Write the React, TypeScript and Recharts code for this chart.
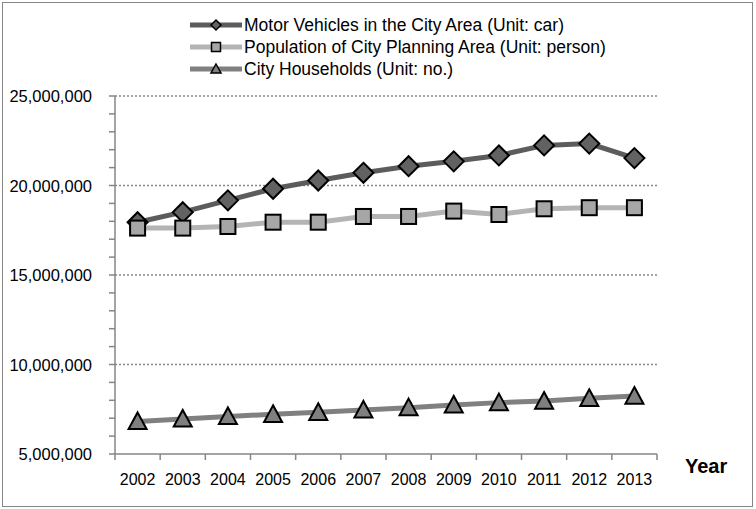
import React from 'react';
import { LineChart, Line, XAxis, YAxis, ReferenceLine, Legend } from 'recharts';

const years = ['2002', '2003', '2004', '2005', '2006', '2007', '2008', '2009', '2010', '2011', '2012', '2013'];
const motorVehicles = [17950000, 18510000, 19170000, 19820000, 20280000, 20710000, 21080000, 21350000, 21680000, 22240000, 22340000, 21530000];
const population = [17620000, 17620000, 17710000, 17950000, 17950000, 18270000, 18270000, 18570000, 18380000, 18700000, 18760000, 18760000];
const households = [6820000, 6960000, 7100000, 7220000, 7330000, 7460000, 7590000, 7740000, 7870000, 7960000, 8110000, 8240000];
const yTicks = [5000000, 6000000, 7000000, 8000000, 9000000, 10000000, 11000000, 12000000, 13000000, 14000000, 15000000, 16000000, 17000000, 18000000, 19000000, 20000000, 21000000, 22000000, 23000000, 24000000, 25000000];
const gridValues = [10000000, 15000000, 20000000, 25000000];
const seriesNames = [
  'Motor Vehicles in the City Area (Unit: car)',
  'Population of City Planning Area (Unit: person)',
  'City Households (Unit: no.)',
];

const data = years.map((y, i) => ({
  year: y,
  motor: motorVehicles[i],
  pop: population[i],
  house: households[i],
}));

const W = 756;
const H = 509;
const M = { top: 96, right: 99, bottom: 25, left: 0 };
const Y_AXIS_W = 115;
const X_AXIS_H = 30;
const plotW = W - M.left - M.right - Y_AXIS_W;
const halfBand = plotW / years.length / 2;
const FONT = '"Liberation Sans", Arial, sans-serif';
const AXIS_COLOR = '#868686';

const colors = {
  motorLine: '#5c5c5c',
  motorFill: '#626262',
  popLine: '#b4b4b4',
  popFill: '#a6a6a6',
  houseLine: '#808080',
  houseFill: '#7f7f7f',
};

const Diamond = (props: any) => {
  const { cx, cy } = props;
  const r = 10;
  if (cx == null || cy == null) return null;
  return (
    <path
      d={`M${cx},${cy - r} L${cx + r},${cy} L${cx},${cy + r} L${cx - r},${cy} Z`}
      fill={colors.motorFill}
      stroke="#000"
      strokeWidth={2}
    />
  );
};

const Square = (props: any) => {
  const { cx, cy } = props;
  const s = 7.5;
  if (cx == null || cy == null) return null;
  return <rect x={cx - s} y={cy - s} width={2 * s} height={2 * s} fill={colors.popFill} stroke="#000" strokeWidth={2} />;
};

const Triangle = (props: any) => {
  const { cx, cy } = props;
  const s = 9;
  if (cx == null || cy == null) return null;
  return (
    <path
      d={`M${cx},${cy - s} L${cx + s},${cy + s * 0.85} L${cx - s},${cy + s * 0.85} Z`}
      fill={colors.houseFill}
      stroke="#000"
      strokeWidth={2}
    />
  );
};

const YTick = (props: any) => {
  const { x, y, payload } = props;
  if (payload.value % 5000000 !== 0) return <g />;
  return (
    <text x={x} y={y} dy={6} textAnchor="end" fontSize={16.5} fontFamily={FONT} fill="#000">
      {Number(payload.value).toLocaleString('en-US')}
    </text>
  );
};

const XTick = (props: any) => {
  const { x, y, payload, index } = props;
  return (
    <g>
      <line x1={x - halfBand} x2={x - halfBand} y1={y} y2={y + 6} stroke={AXIS_COLOR} strokeWidth={1.5} />
      {index === years.length - 1 && (
        <line x1={x + halfBand} x2={x + halfBand} y1={y} y2={y + 6} stroke={AXIS_COLOR} strokeWidth={1.5} />
      )}
      <text x={x} y={y} dy={31} textAnchor="middle" fontSize={16} fontFamily={FONT} fill="#000">
        {payload.value}
      </text>
    </g>
  );
};

const legendItems = [
  { name: seriesNames[0], line: colors.motorLine, marker: 'diamond' },
  { name: seriesNames[1], line: colors.popLine, marker: 'square' },
  { name: seriesNames[2], line: colors.houseLine, marker: 'triangle' },
];

const LegendContent = () => (
  <div style={{ fontFamily: FONT, fontSize: 17.5, color: '#000', lineHeight: '22px' }}>
    {legendItems.map((it) => (
      <div key={it.name} style={{ display: 'flex', alignItems: 'center', height: 22 }}>
        <svg width={52} height={20} style={{ marginRight: 2, flex: 'none' }}>
          <line x1={0} x2={52} y1={10} y2={10} stroke={it.line} strokeWidth={5} />
          {it.marker === 'diamond' && <path d="M26,5 L31,10 L26,15 L21,10 Z" fill={colors.motorFill} stroke="#000" strokeWidth={1.5} />}
          {it.marker === 'square' && <rect x={21.5} y={5.5} width={9} height={9} fill={colors.popFill} stroke="#000" strokeWidth={1.5} />}
          {it.marker === 'triangle' && <path d="M26,5 L31,14 L21,14 Z" fill={colors.houseFill} stroke="#000" strokeWidth={1.5} />}
        </svg>
        <span style={{ whiteSpace: 'nowrap' }}>{it.name}</span>
      </div>
    ))}
  </div>
);

export default function App() {
  return (
    <div style={{ position: 'absolute', left: 0, top: 0, width: W, height: H, background: '#fff' }}>
      <div
        style={{
          position: 'absolute',
          left: 2,
          top: 2,
          width: 751,
          height: 505,
          border: `1.5px solid ${AXIS_COLOR}`,
          boxSizing: 'border-box',
        }}
      />
      <LineChart width={W} height={H} data={data} margin={M} style={{ position: 'absolute', left: 0, top: 0 }}>
        <Legend
          layout="vertical"
          align="center"
          verticalAlign="middle"
          content={<LegendContent />}
          wrapperStyle={{ position: 'absolute', left: 190, top: 14, width: 480 }}
        />
        {gridValues.map((v) => (
          <ReferenceLine key={v} y={v} stroke={AXIS_COLOR} strokeDasharray="2 2" strokeWidth={1.5} />
        ))}
        <XAxis
          dataKey="year"
          height={X_AXIS_H}
          tickLine={false}
          tickSize={0}
          tickMargin={0}
          interval={0}
          padding={{ left: halfBand, right: halfBand }}
          axisLine={{ stroke: AXIS_COLOR, strokeWidth: 1.5 }}
          tick={<XTick />}
          label={{ value: 'Year', position: 'right', offset: 28, fontSize: 20, fontWeight: 'bold', fontFamily: FONT, fill: '#000', dy: -3 }}
        />
        <YAxis
          width={Y_AXIS_W}
          domain={[5000000, 25000000]}
          ticks={yTicks}
          interval={0}
          tickSize={6}
          tickMargin={17}
          tickLine={{ stroke: AXIS_COLOR, strokeWidth: 1.5 }}
          axisLine={{ stroke: AXIS_COLOR, strokeWidth: 1.5 }}
          tick={<YTick />}
          allowDataOverflow
        />
        <Line
          dataKey="motor"
          name={seriesNames[0]}
          stroke={colors.motorLine}
          strokeWidth={5}
          dot={<Diamond />}
          isAnimationActive={false}
        />
        <Line
          dataKey="pop"
          name={seriesNames[1]}
          stroke={colors.popLine}
          strokeWidth={5}
          dot={<Square />}
          isAnimationActive={false}
        />
        <Line
          dataKey="house"
          name={seriesNames[2]}
          stroke={colors.houseLine}
          strokeWidth={5}
          dot={<Triangle />}
          isAnimationActive={false}
        />
      </LineChart>
    </div>
  );
}
